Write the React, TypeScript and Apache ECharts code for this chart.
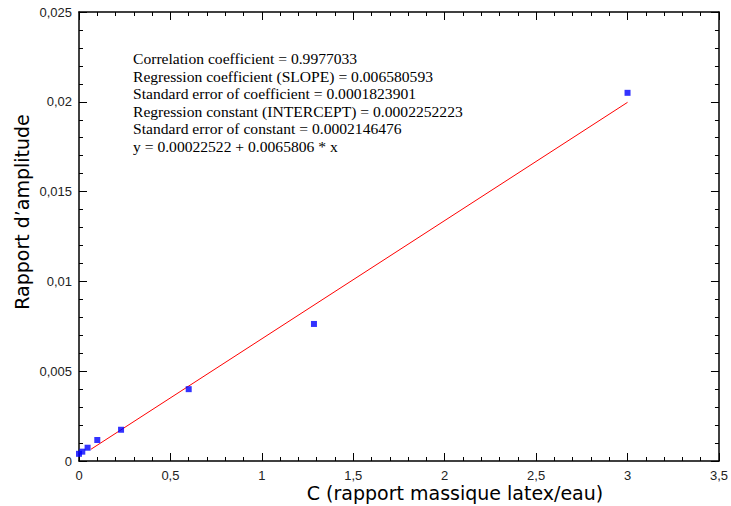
import React, { useEffect, useRef } from "react";
import * as echarts from "echarts";

const massRatio = [0.0, 0.018, 0.047, 0.1, 0.23, 0.6, 1.285, 3.0];
const amplitudeRatio = [0.0004, 0.00052, 0.00074, 0.00117, 0.00174, 0.004, 0.00763, 0.0205];
const fitX = [0.065, 3.0];
const fitY = [0.00065, 0.01997];
const statsLines = [
  "Correlation coefficient = 0.9977033",
  "Regression coefficient (SLOPE) = 0.006580593",
  "Standard error of coefficient = 0.0001823901",
  "Regression constant (INTERCEPT) = 0.0002252223",
  "Standard error of constant = 0.0002146476",
  "y = 0.00022522 + 0.0065806 * x",
];
const xLabel = "C (rapport massique latex/eau)";
const yLabel = "Rapport d\u2019amplitude";

const fmt = (v: number) => String(+v.toFixed(6)).replace(".", ",");

export default function App() {
  const ref = useRef<HTMLDivElement>(null);
  useEffect(() => {
    if (!ref.current) return;
    const chart = echarts.init(ref.current, null, { renderer: "svg" });
    const axisLine = { show: true, onZero: false, lineStyle: { color: "#000", width: 1.5 } };
    const tick = { show: true, inside: true, length: 8, lineStyle: { color: "#000", width: 1 } };
    const minor = { show: true, splitNumber: 5, length: 4, lineStyle: { color: "#000", width: 1 } };
    const labelStyle = { color: "#222", fontFamily: "Liberation Sans", fontSize: 13 };
    const lineGap = 17.5;
    chart.setOption({
      animation: false,
      backgroundColor: "#fff",
      grid: { left: 79, right: 10, top: 12, bottom: 45, containLabel: false },
      xAxis: [
        {
          type: "value", min: 0, max: 3.5, interval: 0.5, position: "bottom",
          axisLine, axisTick: tick, minorTick: minor, splitLine: { show: false },
          axisLabel: { ...labelStyle, margin: 8, formatter: fmt },
        },
        {
          type: "value", min: 0, max: 3.5, interval: 0.5, position: "top",
          axisLine, axisTick: tick, minorTick: minor, splitLine: { show: false },
          axisLabel: { show: false },
        },
      ],
      yAxis: [
        {
          type: "value", min: 0, max: 0.025, interval: 0.005, position: "left",
          axisLine, axisTick: tick, minorTick: minor, splitLine: { show: false },
          axisLabel: { ...labelStyle, margin: 7, formatter: fmt },
        },
        {
          type: "value", min: 0, max: 0.025, interval: 0.005, position: "right",
          axisLine, axisTick: tick, minorTick: minor, splitLine: { show: false },
          axisLabel: { show: false },
        },
      ],
      series: [
        {
          type: "line",
          data: fitX.map((x, i) => [x, fitY[i]]),
          showSymbol: false,
          symbol: "none",
          lineStyle: { color: "#ff0000", width: 1 },
        },
        {
          type: "scatter",
          data: massRatio.map((x, i) => [x, amplitudeRatio[i]]),
          symbol: "rect",
          symbolSize: 6,
          itemStyle: { color: "#0000ff" },
          z: 3,
        },
      ],
      graphic: [
        ...statsLines.map((t, i) => ({
          type: "text",
          x: 133,
          y: 58.5 + i * lineGap,
          style: {
            text: t,
            font: "15.6px 'Liberation Serif'",
            fill: "#000",
            verticalAlign: "middle",
          },
        })),
        {
          type: "text",
          x: 455,
          y: 493,
          style: {
            text: xLabel,
            font: "19px 'DejaVu Sans'",
            fill: "#000",
            align: "center",
            verticalAlign: "middle",
          },
        },
        {
          type: "text",
          x: 22,
          y: 212,
          rotation: Math.PI / 2,
          style: {
            text: yLabel,
            font: "19px 'DejaVu Sans'",
            fill: "#000",
            align: "center",
            verticalAlign: "middle",
          },
        },
      ],
    });
    return () => chart.dispose();
  }, []);
  return (
    <div
      ref={ref}
      style={{ position: "absolute", left: 0, top: 0, width: 731, height: 506 }}
    />
  );
}
